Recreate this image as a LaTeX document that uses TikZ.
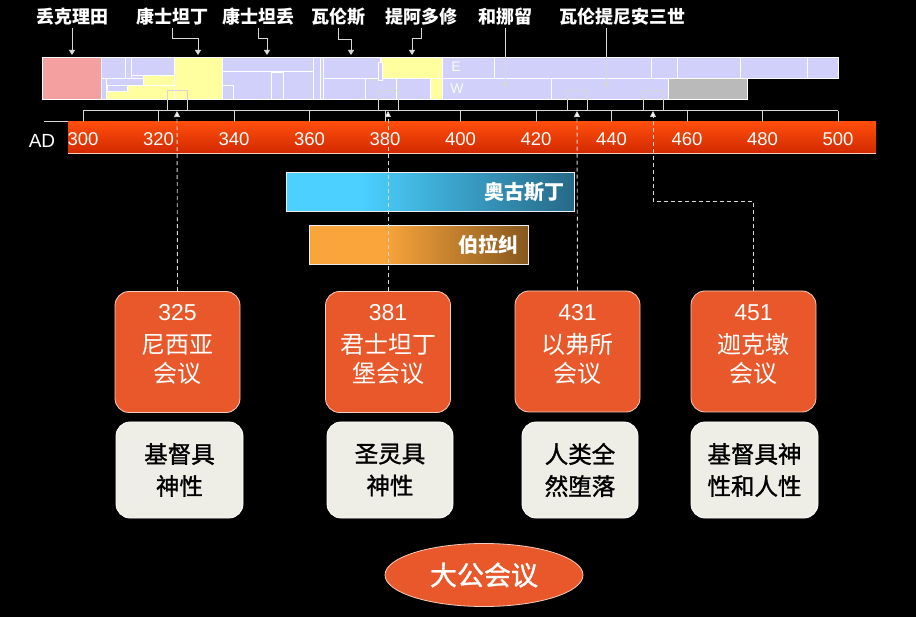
\documentclass[tikz,border=0pt]{standalone}
\usepackage{fontspec}
\setmainfont{Liberation Sans}
\newfontfamily\cjk{Noto Sans CJK SC}
\newfontfamily\cjkmid{Noto Sans CJK SC}[FakeBold=1.3]
\usetikzlibrary{arrows.meta}
\usetikzlibrary{shapes.geometric}
\definecolor{lav}{RGB}{208,208,250}
\definecolor{yel}{RGB}{255,255,160}
\definecolor{pnk}{RGB}{244,160,160}
\definecolor{gry}{RGB}{186,186,186}
\definecolor{cnc}{RGB}{232,88,42}
\definecolor{cncedge}{RGB}{245,205,190}
\definecolor{docfill}{RGB}{239,238,230}
\definecolor{augL}{RGB}{75,208,255}
\definecolor{augR}{RGB}{38,105,135}
\definecolor{pelL}{RGB}{250,165,60}
\definecolor{pelR}{RGB}{135,88,30}
\definecolor{redT}{RGB}{255,78,12}
\definecolor{redB}{RGB}{208,40,0}
\definecolor{linegray}{RGB}{215,215,215}
\pgfdeclarehorizontalshading{augshade}{100bp}{color(0bp)=(augL); color(38bp)=(augL); color(75bp)=(augR); color(100bp)=(augR)}
\pgfdeclarehorizontalshading{pelshade}{100bp}{color(0bp)=(pelL); color(42bp)=(pelL); color(75bp)=(pelR); color(100bp)=(pelR)}
\tikzset{
    lavcell/.style={fill=lav, draw=white, line width=0.8pt},
    yelcell/.style={fill=yel, draw=white, line width=0.8pt},
    emplabel/.style={text=white, font=\cjk\bfseries\fontsize{18}{20}\selectfont, inner sep=2pt},
    emparrow/.style={draw=linegray, line width=0.9pt, -{Triangle[width=6pt,length=5pt]}},
    rulerline/.style={draw=linegray, line width=1pt},
    yearlabel/.style={text=white, font=\fontsize{18.5}{20}\selectfont},
    rulerbox/.style={draw=linegray, line width=0.9pt},
    dasharrow/.style={draw=linegray, line width=0.9pt, dash pattern=on 4pt off 3pt,
        -{Triangle[width=6pt,length=6pt,fill=white]}},
    council/.style={rectangle, rounded corners=14pt, fill=cnc, draw=cncedge, line width=0.8pt,
        minimum width=125pt, minimum height=121pt},
    counciltext/.style={text=white, align=center, inner sep=0pt, font=\cjk\fontsize{24}{29}\selectfont},
    doctrine/.style={rectangle, rounded corners=14pt, fill=docfill, draw=white, line width=0.8pt,
        minimum height=96pt, text=black, align=center, font=\cjkmid\fontsize{23.5}{32}\selectfont},
    personbar/.style={rectangle, draw=white!85!gray, line width=1pt, minimum height=32pt,
        inner sep=10pt, align=right, text=white, font=\cjk\bfseries\fontsize{20}{22}\selectfont}
}
\newcommand{\digits}[1]{{\rmfamily\fontsize{23}{28}\selectfont #1}}

\begin{document}
\begin{tikzpicture}[x=1pt,y=-1pt]
\fill[black] (0,0) rectangle (916,617);
\useasboundingbox (0,0) rectangle (916,617);

% emperors bar
\fill[lav] (42,57) rectangle (838,78);
\fill[lav] (42,78) rectangle (747,99);
\foreach \xa/\ya/\xb/\yb in {143/75/174/85, 106/85/174/99, 174/57/222/99, 381/57/442/78, 430/78/442/99}
  \draw[yelcell] (\xa,\ya) rectangle (\xb,\yb);
\foreach \xa/\ya/\xb/\yb in {101/57/125/78, 125/57/131/78, 131/57/174/75, 101/78/106/99, 106/78/143/85,
    107/85/127/91, 222/57/313/71, 222/71/271/99, 271/72/283/99, 283/71/313/99, 222/85/233/99,
    313/57/320/99, 320/57/323/99, 323/57/380/78, 323/78/365/99, 365/78/396/99, 396/78/430/99,
    378/62/382/80, 442/57/494/78, 494/57/651/78, 651/57/677/78, 677/57/740/78, 740/57/807/78,
    807/57/838/78, 442/78/551/99, 551/78/668/99}
  \draw[lavcell] (\xa,\ya) rectangle (\xb,\yb);
\draw[fill=pnk, draw=white, line width=0.8pt] (42,57) rectangle (101,99);
\draw[fill=gry, draw=white, line width=0.8pt] (668,78) rectangle (747,99);
\node[text=white!90!lav, font=\fontsize{14}{16}\selectfont] (east) at (456,67) {E};
\node[text=white!90!lav, font=\fontsize{14}{16}\selectfont] (west) at (457,89) {W};

% emperor names
\node[emplabel] (diocl) at (72,17) {丢克理田};
\node[emplabel] (constI) at (172,17) {康士坦丁};
\node[emplabel] (constII) at (258,17) {康士坦丢};
\node[emplabel] (valens) at (338,17) {瓦伦斯};
\node[emplabel] (theod) at (421,17) {提阿多修};
\node[emplabel] (honor) at (505,17) {和挪留};
\node[emplabel] (valent) at (622,17) {瓦伦提尼安三世};
\coordinate (ediocl) at (72,55);
\coordinate (econstI) at (198,55);
\coordinate (econstII) at (267,55);
\coordinate (evalens) at (351,55);
\coordinate (etheod) at (412,55);
\coordinate (ehonor) at (505,88);
\coordinate (evalent) at (606,88);
\draw[emparrow] (diocl.south) -- (ediocl);
\draw[emparrow] (constI.south) -- ++(0,11) -| (econstI);
\draw[emparrow] (constII.south) -- ++(0,11) -| (econstII);
\draw[emparrow] (valens.south) -- ++(0,11) -| (evalens);
\draw[emparrow] (theod.south) -- ++(0,11) -| (etheod);
\draw[emparrow] (honor.south) -- (ehonor);
\draw[emparrow] (valent.south -| evalent) -- (evalent);

% time line
\draw[rulerline] (83,111) -- (838,111);
\draw[rulerline] (44,122) -- (68,122);
\fill[top color=redT, bottom color=redB] (68,122) rectangle (876,154);
\draw[draw=cncedge, line width=1pt] (68,154) -- (876,154);
\node[text=white, font=\fontsize{19}{21}\selectfont] (ad) at (42,141) {AD};
\foreach \yr in {300,320,...,500}{
  \pgfmathsetmacro{\tx}{83+(\yr-300)*3.775}
  \draw[rulerline] (\tx,111) -- (\tx,122);
  \node[yearlabel] (yr\yr) at (\tx,139) {\yr};
}
\foreach \cx/\nm in {177/t325, 388/t381, 577/t431, 653/t451}{
  \coordinate (\nm) at (\cx,111);
  \draw[rulerbox] (\cx-10,111) -- (\cx-10,90) -- (\cx+10,90) -- (\cx+10,111);
}

% augustine and pelagius
\node[personbar, shade, shading=augshade, text width=268pt] (aug) at (430,192) {奥古斯丁};
\node[personbar, shade, shading=pelshade, text width=199pt] (pel) at (418.5,245) {伯拉纠};

% councils
\node[council] (c325) at (177.5,352) {};
\node[council] (c381) at (388,352) {};
\node[council] (c431) at (577.5,351.5) {};
\node[council] (c451) at (753.5,351.5) {};
\node[counciltext] (c325t) at ([yshift=7pt]c325.center) {\digits{325}\\[4pt]尼西亚\\会议};
\node[counciltext] (c381t) at ([yshift=7pt]c381.center) {\digits{381}\\[4pt]君士坦丁\\堡会议};
\node[counciltext] (c431t) at ([yshift=7pt]c431.center) {\digits{431}\\[4pt]以弗所\\会议};
\node[counciltext] (c451t) at ([yshift=7pt]c451.center) {\digits{451}\\[4pt]迦克墩\\会议};
\node[doctrine, minimum width=127pt] (d325) at (179.5,470) {基督具\\神性};
\node[doctrine, minimum width=126pt] (d381) at (390,470) {圣灵具\\神性};
\node[doctrine, minimum width=116pt] (d431) at (580,470) {人类全\\然堕落};
\node[doctrine, minimum width=127pt] (d451) at (754.5,470) {基督具神\\性和人性};
\coordinate (k451) at (653,201);
\draw[dasharrow] (c325.north) -- (t325);
\draw[dasharrow] (c381.north) -- (t381);
\draw[dasharrow] (c431.north) -- (t431);
\draw[dasharrow] (c451.north) |- (k451) -- (t451);

\node[ellipse, fill=cnc, draw=cncedge, line width=0.8pt, minimum width=198pt, minimum height=63pt,
  text=white, font=\cjkmid\fontsize{27}{29}\selectfont] (grand) at (484,575) {大公会议};
\end{tikzpicture}
\end{document}
